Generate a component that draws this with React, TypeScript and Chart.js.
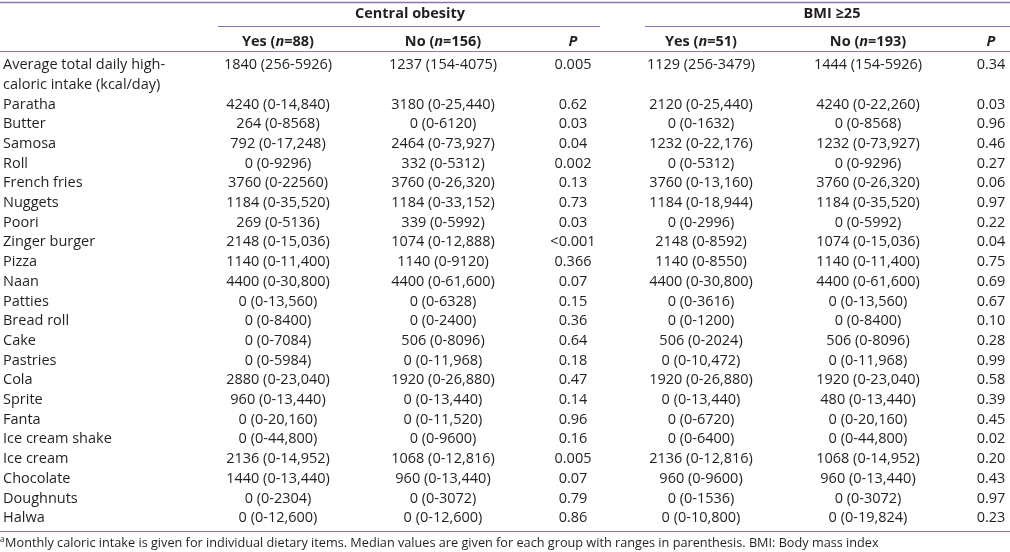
import { useEffect, useRef } from 'react';
import { Chart, registerables } from 'chart.js';

Chart.register(...registerables);

// ---------- data ----------
const ITEMS = [
  'Average total daily high-\ncaloric intake (kcal/day)',
  'Paratha', 'Butter', 'Samosa', 'Roll', 'French fries', 'Nuggets', 'Poori',
  'Zinger burger', 'Pizza', 'Naan', 'Patties', 'Bread roll', 'Cake', 'Pastries',
  'Cola', 'Sprite', 'Fanta', 'Ice cream shake', 'Ice cream', 'Chocolate',
  'Doughnuts', 'Halwa',
];

const CO_YES = [
  '1840 (256-5926)', '4240 (0-14,840)', '264 (0-8568)', '792 (0-17,248)', '0 (0-9296)',
  '3760 (0-22560)', '1184 (0-35,520)', '269 (0-5136)', '2148 (0-15,036)', '1140 (0-11,400)',
  '4400 (0-30,800)', '0 (0-13,560)', '0 (0-8400)', '0 (0-7084)', '0 (0-5984)',
  '2880 (0-23,040)', '960 (0-13,440)', '0 (0-20,160)', '0 (0-44,800)', '2136 (0-14,952)',
  '1440 (0-13,440)', '0 (0-2304)', '0 (0-12,600)',
];
const CO_NO = [
  '1237 (154-4075)', '3180 (0-25,440)', '0 (0-6120)', '2464 (0-73,927)', '332 (0-5312)',
  '3760 (0-26,320)', '1184 (0-33,152)', '339 (0-5992)', '1074 (0-12,888)', '1140 (0-9120)',
  '4400 (0-61,600)', '0 (0-6328)', '0 (0-2400)', '506 (0-8096)', '0 (0-11,968)',
  '1920 (0-26,880)', '0 (0-13,440)', '0 (0-11,520)', '0 (0-9600)', '1068 (0-12,816)',
  '960 (0-13,440)', '0 (0-3072)', '0 (0-12,600)',
];
const CO_P = [
  '0.005', '0.62', '0.03', '0.04', '0.002', '0.13', '0.73', '0.03', '<0.001', '0.366',
  '0.07', '0.15', '0.36', '0.64', '0.18', '0.47', '0.14', '0.96', '0.16', '0.005',
  '0.07', '0.79', '0.86',
];
const BMI_YES = [
  '1129 (256-3479)', '2120 (0-25,440)', '0 (0-1632)', '1232 (0-22,176)', '0 (0-5312)',
  '3760 (0-13,160)', '1184 (0-18,944)', '0 (0-2996)', '2148 (0-8592)', '1140 (0-8550)',
  '4400 (0-30,800)', '0 (0-3616)', '0 (0-1200)', '506 (0-2024)', '0 (0-10,472)',
  '1920 (0-26,880)', '0 (0-13,440)', '0 (0-6720)', '0 (0-6400)', '2136 (0-12,816)',
  '960 (0-9600)', '0 (0-1536)', '0 (0-10,800)',
];
const BMI_NO = [
  '1444 (154-5926)', '4240 (0-22,260)', '0 (0-8568)', '1232 (0-73,927)', '0 (0-9296)',
  '3760 (0-26,320)', '1184 (0-35,520)', '0 (0-5992)', '1074 (0-15,036)', '1140 (0-11,400)',
  '4400 (0-61,600)', '0 (0-13,560)', '0 (0-8400)', '506 (0-8096)', '0 (0-11,968)',
  '1920 (0-23,040)', '480 (0-13,440)', '0 (0-20,160)', '0 (0-44,800)', '1068 (0-14,952)',
  '960 (0-13,440)', '0 (0-3072)', '0 (0-19,824)',
];
const BMI_P = [
  '0.34', '0.03', '0.96', '0.46', '0.27', '0.06', '0.97', '0.22', '0.04', '0.75',
  '0.69', '0.67', '0.10', '0.28', '0.99', '0.58', '0.39', '0.45', '0.02', '0.20',
  '0.43', '0.97', '0.23',
];

const GROUP_TITLES = ['Central obesity', 'BMI \u226525'];
const SUB_HEADERS = ['Yes (n=88)', 'No (n=156)', 'P', 'Yes (n=51)', 'No (n=193)', 'P'];
const FOOTNOTE =
  'Monthly caloric intake is given for individual dietary items. Median values are given for each group with ranges in parenthesis. BMI: Body mass index';

// ---------- layout (positions in scale units, not data) ----------
const W = 1010;
const H = 552;
const LABEL_X = 3;
const COL_X = [278, 443, 573, 701, 868, 991];
const GROUP_SPAN = [[218, 600], [645, 1010]];
const GROUP_CENTER = [410, 832];
const Y_MIN = -3.3;
const Y_MAX = 24.72;
const Y_TOP_LINE = -3.2;
const Y_GROUP = -2.6;
const Y_GROUP_LINE = -1.98;
const Y_SUB = -1.15;
const Y_HEAD_LINE = -0.72;
const Y_BOTTOM_LINE = 23.66;
const Y_FOOT = 24.28;

const FONT = "'Open Sans', 'Liberation Sans', sans-serif";
const BODY_SIZE = 14.5;
const FOOT_SIZE = 12.7;
const TEXT_COLOR = '#231f20';
const LINE_COLOR = '#8e72a8';

const rowPos = (i: number) => (i === 0 ? 0 : i + 1);

const COLUMNS = [CO_YES, CO_NO, CO_P, BMI_YES, BMI_NO, BMI_P];

type Seg = { t: string; italic: boolean };
function parseRich(s: string): Seg[] {
  if (s === 'P') return [{ t: 'P', italic: true }];
  const idx = s.indexOf('n=');
  if (idx < 0) return [{ t: s, italic: false }];
  return [
    { t: s.slice(0, idx), italic: false },
    { t: 'n', italic: true },
    { t: s.slice(idx + 1), italic: false },
  ];
}

const tablePlugin = {
  id: 'tableText',
  afterDatasetsDraw(chart: any) {
    const ctx = chart.ctx as CanvasRenderingContext2D;
    const xs = chart.scales.x;
    const ys = chart.scales.y;
    ctx.save();
    ctx.textBaseline = 'middle';
    ctx.fillStyle = TEXT_COLOR;

    // rules
    const hline = (y: number, x0: number, x1: number, lw: number) => {
      ctx.beginPath();
      ctx.strokeStyle = LINE_COLOR;
      ctx.lineWidth = lw;
      const py = Math.round(ys.getPixelForValue(y)) + 0.5;
      ctx.moveTo(xs.getPixelForValue(x0), py);
      ctx.lineTo(xs.getPixelForValue(x1), py);
      ctx.stroke();
    };
    hline(Y_TOP_LINE, 0, W, 1.5);
    GROUP_SPAN.forEach(([a, b]) => hline(Y_GROUP_LINE, a, b, 1.2));
    hline(Y_HEAD_LINE, 0, W, 1.2);
    hline(Y_BOTTOM_LINE, 0, W, 1.2);

    // group titles
    ctx.font = `bold ${BODY_SIZE}px ${FONT}`;
    ctx.textAlign = 'center';
    GROUP_TITLES.forEach((t, i) => {
      ctx.fillText(t, xs.getPixelForValue(GROUP_CENTER[i]), ys.getPixelForValue(Y_GROUP));
    });

    // sub headers with italic parts
    ctx.textAlign = 'left';
    SUB_HEADERS.forEach((h, i) => {
      const segs = parseRich(h);
      const fonts = segs.map((s) => `${s.italic ? 'italic ' : ''}bold ${BODY_SIZE}px ${FONT}`);
      let total = 0;
      const widths = segs.map((s, k) => {
        ctx.font = fonts[k];
        const w = ctx.measureText(s.t).width;
        total += w;
        return w;
      });
      let x = xs.getPixelForValue(COL_X[i]) - total / 2;
      const y = ys.getPixelForValue(Y_SUB);
      segs.forEach((s, k) => {
        ctx.font = fonts[k];
        ctx.fillText(s.t, x, y);
        x += widths[k];
      });
    });

    // cells (positioned from dataset elements)
    ctx.font = `${BODY_SIZE}px ${FONT}`;
    const step = ys.getPixelForValue(1) - ys.getPixelForValue(0);
    chart.data.datasets.forEach((ds: any, di: number) => {
      const meta = chart.getDatasetMeta(di);
      ctx.textAlign = di === 0 ? 'left' : 'center';
      meta.data.forEach((pt: any, j: number) => {
        const text: string = ds.texts[j];
        text.split('\n').forEach((ln, k) => ctx.fillText(ln, pt.x, pt.y + k * step));
      });
    });

    // footnote
    const fy = ys.getPixelForValue(Y_FOOT);
    ctx.textAlign = 'left';
    ctx.font = `${FOOT_SIZE * 0.65}px ${FONT}`;
    ctx.fillText('a', xs.getPixelForValue(0), fy - 4);
    const aw = ctx.measureText('a').width;
    ctx.font = `${FOOT_SIZE}px ${FONT}`;
    ctx.fillText(FOOTNOTE, xs.getPixelForValue(0) + aw + 0.5, fy);
    ctx.restore();
  },
};

export default function App() {
  const ref = useRef<HTMLCanvasElement>(null);
  useEffect(() => {
    if (!ref.current) return;
    const datasets: any[] = [
      {
        label: 'labels',
        texts: ITEMS,
        data: ITEMS.map((_, i) => ({ x: LABEL_X, y: rowPos(i) })),
        pointRadius: 0,
      },
      ...COLUMNS.map((col, c) => ({
        label: SUB_HEADERS[c],
        texts: col,
        data: col.map((_, i) => ({ x: COL_X[c], y: rowPos(i) })),
        pointRadius: 0,
      })),
    ];
    const chart = new Chart(ref.current, {
      type: 'scatter',
      data: { datasets },
      options: {
        animation: false,
        responsive: false,
        maintainAspectRatio: false,
        events: [],
        layout: { padding: 0 },
        plugins: { legend: { display: false }, tooltip: { enabled: false } },
        scales: {
          x: { type: 'linear', min: 0, max: W, display: false },
          y: { type: 'linear', min: Y_MIN, max: Y_MAX, reverse: true, display: false },
        },
      },
      plugins: [tablePlugin],
    });
    return () => chart.destroy();
  }, []);
  return (
    <div style={{ position: 'absolute', left: 0, top: 0, width: W, height: H, background: '#fff' }}>
      <canvas ref={ref} width={W} height={H} style={{ display: 'block' }} />
    </div>
  );
}
